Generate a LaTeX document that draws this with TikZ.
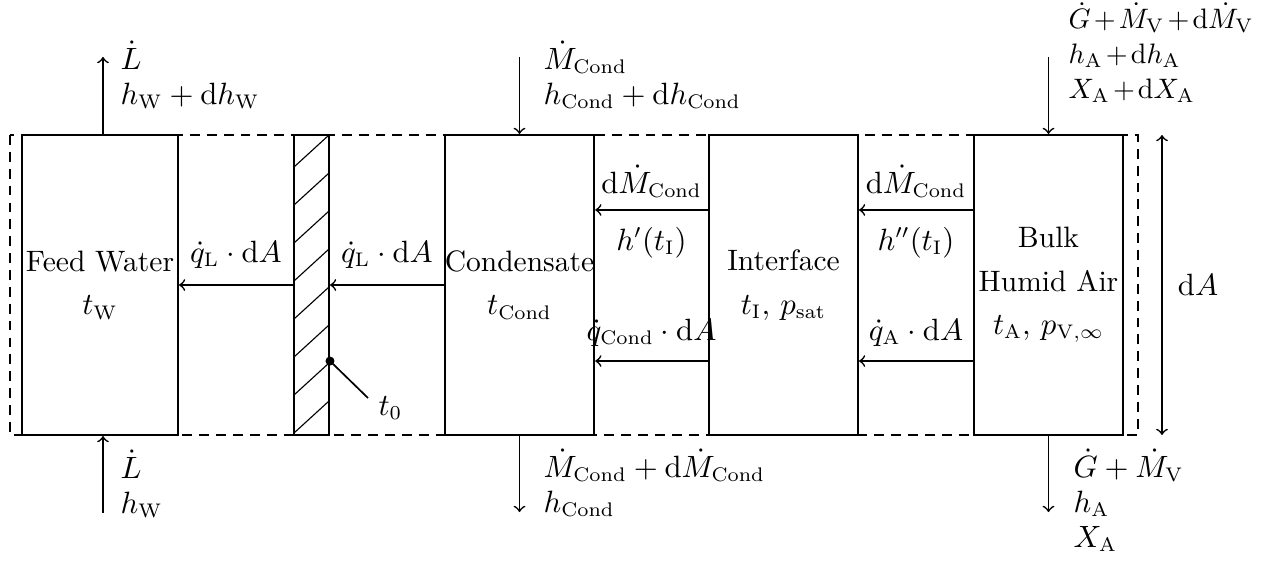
\documentclass[tikz,border=0pt]{standalone}
\usepackage{amsmath}
\usetikzlibrary{calc}
\newcommand{\tightmath}{\medmuskip=2mu\relax}
\begin{document}
\begin{tikzpicture}[x=0.0125cm,y=-0.0125cm, font=\fontsize{10.5}{12.4}\selectfont,
  box/.style={draw, line width=0.7pt, minimum width=1.8625cm, minimum height=3.75cm, inner sep=0pt, align=center},
  flow/.style={->, line width=0.6pt},
  lbl/.style={anchor=base west, align=left, inner sep=0pt},
  albl/.style={anchor=base, inner sep=0pt}]
\useasboundingbox (0,0) rectangle (1273,564);
% control volume
\draw[dash pattern=on 3.5pt off 2.5pt, line width=0.6pt] (10,135) rectangle (1138,435);
% boxes
\node[box, minimum width=1.95cm] (fw) at (100,285) {Feed Water\\[3pt] $t_\mathrm{W}$};
\node[box, minimum width=0.4375cm] (wall) at (311.5,285) {};
\begin{scope}
  \clip (wall.south west) rectangle (wall.north east);
  \foreach \k in {0,...,8} \draw[line width=0.4pt] (294,433-38*\k) -- ++(35,-32);
\end{scope}
\node[box] (cond) at (519.5,285) {Condensate\\[3pt] $t_\mathrm{Cond}$};
\node[box] (int) at (783.5,285) {Interface\\[3pt] $t_\mathrm{I},\, p_\mathrm{sat}$};
\node[box] (bulk) at (1048.5,285) {Bulk\\[3pt] Humid Air\\[3pt] $t_\mathrm{A},\, p_{\mathrm{V},\infty}$};
% horizontal flows
\draw[flow] (wall.west) -- (fw.east);
\draw[flow] (cond.west) -- (wall.east);
\node[albl] (ql1) at (236,262) {$\dot q_\mathrm{L}\cdot\mathrm{d}A$};
\node[albl] (ql2) at (387,262) {$\dot q_\mathrm{L}\cdot\mathrm{d}A$};
\draw[flow] ([yshift=0.9375cm]int.west) -- ([yshift=0.9375cm]cond.east);
\draw[flow] ([yshift=-0.95cm]int.west) -- ([yshift=-0.95cm]cond.east);
\draw[flow] ([yshift=0.9375cm]bulk.west) -- ([yshift=0.9375cm]int.east);
\draw[flow] ([yshift=-0.95cm]bulk.west) -- ([yshift=-0.95cm]int.east);
\node[albl] (m1) at (651.5,193) {$\mathrm{d}\dot M_\mathrm{Cond}$};
\node[albl] (h1) at (651.5,250) {$h'(t_\mathrm{I})$};
\node[albl] (q1) at (651.5,340) {$\dot q_\mathrm{Cond}\cdot\mathrm{d}A$};
\node[albl] (m2) at (916,193) {$\mathrm{d}\dot M_\mathrm{Cond}$};
\node[albl] (h2) at (916,250) {$h''(t_\mathrm{I})$};
\node[albl] (q2) at (916,340) {$\dot q_\mathrm{A}\cdot\mathrm{d}A$};
% vertical flows
\draw[flow] ([xshift=0.0375cm]fw.north) -- ([xshift=0.0375cm,yshift=0.9625cm]fw.north);
\draw[flow] ([xshift=0.0375cm,yshift=-0.96cm]fw.south) -- ([xshift=0.0375cm]fw.south);
\draw[flow] ([yshift=0.9625cm]cond.north) -- (cond.north);
\draw[flow] (cond.south) -- ([yshift=-0.95cm]cond.south);
\draw[flow] ([yshift=0.9625cm]bulk.north) -- (bulk.north);
\draw[flow] (bulk.south) -- ([yshift=-0.95cm]bulk.south);
\node[lbl] (lt) at (120,104) {$\dot L$\\ $h_\mathrm{W}+\mathrm{d}h_\mathrm{W}$};
\node[lbl] (lb) at (120,513) {$\dot L$\\ $h_\mathrm{W}$};
\node[lbl] (ct) at (543,104) {$\dot M_\mathrm{Cond}$\\ $h_\mathrm{Cond}+\mathrm{d}h_\mathrm{Cond}$};
\node[lbl] (cb) at (543,512) {$\dot M_\mathrm{Cond}+\mathrm{d}\dot M_\mathrm{Cond}$\\ $h_\mathrm{Cond}$};
\node[lbl, font=\fontsize{10}{12.4}\selectfont] (gt) at (1068,98) {$\tightmath\dot G+\dot M_\mathrm{V}+\mathrm{d}\dot M_\mathrm{V}$\\ $\tightmath h_\mathrm{A}+\mathrm{d}h_\mathrm{A}$\\ $\tightmath X_\mathrm{A}+\mathrm{d}X_\mathrm{A}$};
\node[lbl] (gb) at (1073,547) {$\dot G+\dot M_\mathrm{V}$\\ $h_\mathrm{A}$\\ $X_\mathrm{A}$};
% dA
\coordinate (dat) at (1162,135);
\coordinate (dab) at (1162,435);
\draw[<->, line width=0.6pt] (dat) -- (dab);
\node (da) at (1198,285) {$\mathrm{d}A$};
% t0
\coordinate (tp) at ([yshift=-0.95cm]wall.east);
\coordinate (te) at (368,398);
\fill (tp) circle (1.6pt);
\draw[line width=0.6pt] (tp) -- (te);
\node[anchor=base west, inner sep=0pt] (t0) at (378,415) {$t_0$};
\end{tikzpicture}
\end{document}
